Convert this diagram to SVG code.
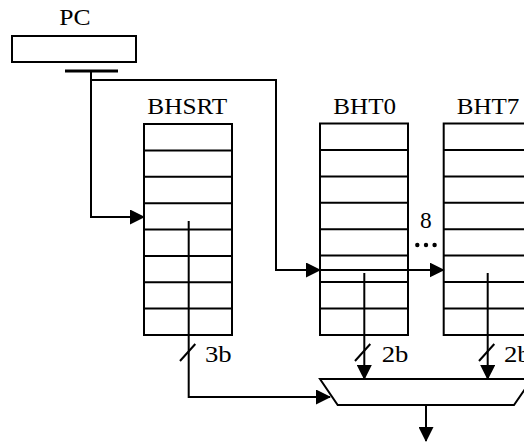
<svg xmlns="http://www.w3.org/2000/svg" width="524" height="442" viewBox="0 0 524 442">
  <style>
    .box { fill: #fff; stroke: #000; stroke-width: 2; }
    .row { stroke: #000; stroke-width: 2; }
    .wire { fill: none; stroke: #000; stroke-width: 2; }
    .arrow { fill: none; stroke: #000; stroke-width: 2; marker-end: url(#head); }
    .lbl { font-family: "Liberation Serif", "Times New Roman", serif; font-size: 22.5px; fill: #000; }
    .mid { text-anchor: middle; }
  </style>
  <defs>
    <marker id="head" markerUnits="userSpaceOnUse" markerWidth="15" markerHeight="15" viewBox="0 0 15 15" refX="14" refY="7.5" orient="auto">
      <path d="M0,0 L15,7.5 L0,15 Z" fill="#000"/>
    </marker>
  </defs>

  <!-- program counter register -->
  <g id="pc">
    <text class="lbl" x="59.3" y="25" textLength="31.3" lengthAdjust="spacingAndGlyphs">PC</text>
    <rect class="box" x="12" y="36" width="124" height="26"/>
  </g>

  <!-- branch history shift register table -->
  <g id="bhsrt">
    <text class="lbl" x="147.3" y="114" textLength="80" lengthAdjust="spacingAndGlyphs">BHSRT</text>
    <rect class="box" x="144" y="124" width="88" height="211"/>
    <path class="row" d="M144,150.4H232M144,176.8H232M144,203.3H232M144,229.5H232M144,256H232M144,282.3H232M144,308.6H232"/>
  </g>

  <!-- branch history table 0 -->
  <g id="bht0">
    <text class="lbl" x="333.3" y="114" textLength="62.7" lengthAdjust="spacingAndGlyphs">BHT0</text>
    <rect class="box" x="320" y="123.5" width="88" height="211.5"/>
    <path class="row" d="M320,150H408M320,176.4H408M320,202.8H408M320,229.2H408M320,255.6H408M320,282H408M320,308.4H408"/>
  </g>

  <!-- branch history table 7 -->
  <g id="bht7">
    <text class="lbl" x="456.7" y="114" textLength="62.7" lengthAdjust="spacingAndGlyphs">BHT7</text>
    <rect class="box" x="443.7" y="123.5" width="88" height="211.5"/>
    <path class="row" d="M443.7,150H531.7M443.7,176.4H531.7M443.7,202.8H531.7M443.7,229.2H531.7M443.7,255.6H531.7M443.7,282H531.7M443.7,308.4H531.7"/>
  </g>

  <!-- eight tables, elided -->
  <g id="ellipsis">
    <text class="lbl" x="420" y="228.3" textLength="11.7" lengthAdjust="spacingAndGlyphs">8</text>
    <circle cx="417.3" cy="245" r="2.2"/>
    <circle cx="426" cy="245" r="2.2"/>
    <circle cx="434.6" cy="245" r="2.2"/>
  </g>

  <!-- selector -->
  <g id="mux">
    <path class="box" d="M320,379 L532,379 L514,405 L337.7,405 Z"/>
  </g>

  <!-- wires -->
  <g id="connectors">
    <line x1="65" y1="71" x2="118" y2="71" stroke="#000" stroke-width="3"/>
    <path class="arrow" d="M91,71 V217 H144"/>
    <path class="arrow" d="M91,80 H276 V270 H320"/>
    <path class="arrow" d="M320,270 H443.7"/>
    <path class="arrow" d="M188.7,221 V397 H330"/>
    <path class="arrow" d="M364.3,273 V379"/>
    <path class="arrow" d="M487.7,273 V379"/>
    <path class="arrow" d="M426,405 V441"/>
    <path class="wire" d="M180,361 L195.3,344 M355,361 L370.3,344 M479,361 L494.3,344"/>
    <text class="lbl" x="205" y="361.7" textLength="26.7" lengthAdjust="spacingAndGlyphs">3b</text>
    <text class="lbl" x="381.7" y="361.7" textLength="26.7" lengthAdjust="spacingAndGlyphs">2b</text>
    <text class="lbl" x="504" y="361.7" textLength="26.7" lengthAdjust="spacingAndGlyphs">2b</text>
  </g>
</svg>
